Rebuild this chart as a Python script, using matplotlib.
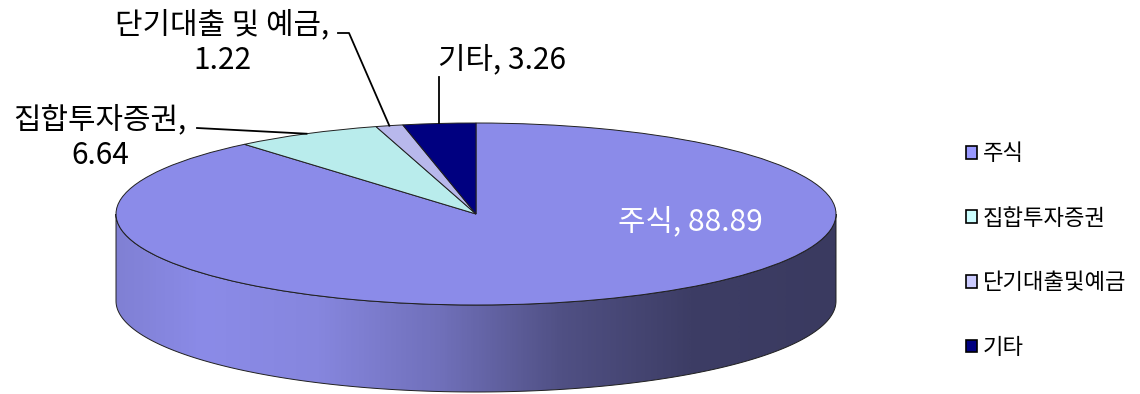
import numpy as np
import matplotlib
matplotlib.use("Agg")
import matplotlib.pyplot as plt
from matplotlib.patches import Polygon, Patch
from matplotlib.colors import LinearSegmentedColormap
from matplotlib.transforms import Affine2D

plt.rcParams['font.family'] = ['Noto Sans CJK KR', 'DejaVu Sans']

# data
categories = ['주식', '집합투자증권', '단기대출및예금', '기타']
label_names = ['주식', '집합투자증권', '단기대출 및 예금', '기타']
values = [88.89, 6.64, 1.22, 3.26]
top_colors = ['#8b8be9', '#b9ecec', '#b8b8ec', '#000080']
legend_colors = ['#9999ff', '#ccffff', '#ccccff', '#000080']

# geometry of the 3d pie (pixels)
cx, cy = 476, 214
rx, ry = 360, 91
depth = 87

fig = plt.figure(figsize=(11.4, 3.94), dpi=100)
ax = fig.add_axes([0, 0, 1, 1])

wedges, _ = ax.pie(values, colors=top_colors, startangle=90, counterclock=False,
                   radius=rx, center=(0, 0),
                   wedgeprops=dict(edgecolor='#202020', linewidth=0.7))
squash = Affine2D().scale(1, -ry / rx).translate(cx, cy) + ax.transData
for w in wedges:
    w.set_transform(squash)
    w.set_zorder(5)

ax.set_xlim(0, 1140)
ax.set_ylim(394, 0)
ax.set_aspect('auto')
ax.axis('off')

# side shading
side_cmap = LinearSegmentedColormap.from_list('side', [
    (0.0, '#8080d4'), (0.12, '#8b8be8'), (0.28, '#8686de'), (0.45, '#7070ba'),
    (0.62, '#505084'), (0.8, '#3d3d65'), (1.0, '#3a3a60')])
grad = np.linspace(0, 1, 400).reshape(1, -1)


def ell(t, dy=0):
    t = np.radians(t)
    return cx + rx * np.cos(t), cy - ry * np.sin(t) + dy


for w in wedges:
    for k in (-360, 0, 360):
        a = max(w.theta1 + k, 180)
        b = min(w.theta2 + k, 360)
        if b <= a:
            continue
        t = np.linspace(a, b, 200)
        xt, yt = ell(t)
        xb, yb = ell(t[::-1], depth)
        pts = np.column_stack([np.r_[xt, xb], np.r_[yt, yb]])
        poly = Polygon(pts, closed=True, facecolor='none',
                       edgecolor='#202020', linewidth=0.7, zorder=3)
        ax.add_patch(poly)
        im = ax.imshow(grad, cmap=side_cmap, aspect='auto',
                       extent=[cx - rx, cx + rx, cy + depth + ry, cy - ry],
                       zorder=2)
        im.set_clip_path(poly)

ax.set_xlim(0, 1140)
ax.set_ylim(394, 0)

# labels
fs = 21.5
mids = [(w.theta1 + w.theta2) / 2 for w in wedges]
tx = [ell(m) for m in mids]

ax.text(690, 222, '%s, %.2f' % (label_names[0], values[0]), color='white',
        fontsize=fs, ha='center', va='center', zorder=6)

ax.text(100, 138, '%s,\n%.2f' % (label_names[1], values[1]), fontsize=fs,
        ha='center', va='center', linespacing=1.2, zorder=6)
ax.plot([197, tx[1][0]], [128, tx[1][1]], color='black', lw=1.3, zorder=6)

ax.text(222, 43, '%s,\n%.2f' % (label_names[2], values[2]), fontsize=fs,
        ha='center', va='center', linespacing=1.2, zorder=6)
ax.plot([338, 349, tx[2][0]], [33, 33, tx[2][1]], color='black', lw=1.3, zorder=6)

ax.text(502, 60, '%s, %.2f' % (label_names[3], values[3]), fontsize=fs,
        ha='center', va='center', zorder=6)
ax.plot([tx[3][0], tx[3][0]], [77, tx[3][1]], color='black', lw=1.3, zorder=6)

# legend
handles = [Patch(facecolor=c, edgecolor='black', linewidth=1.2) for c in legend_colors]
leg = ax.legend(handles, categories, loc='upper left', bbox_to_anchor=(0.83, 0.69),
                frameon=False, fontsize=16, handlelength=0.5, handleheight=0.5,
                handletextpad=0.25, labelspacing=1.87)

fig.savefig('out.png', dpi=100)
